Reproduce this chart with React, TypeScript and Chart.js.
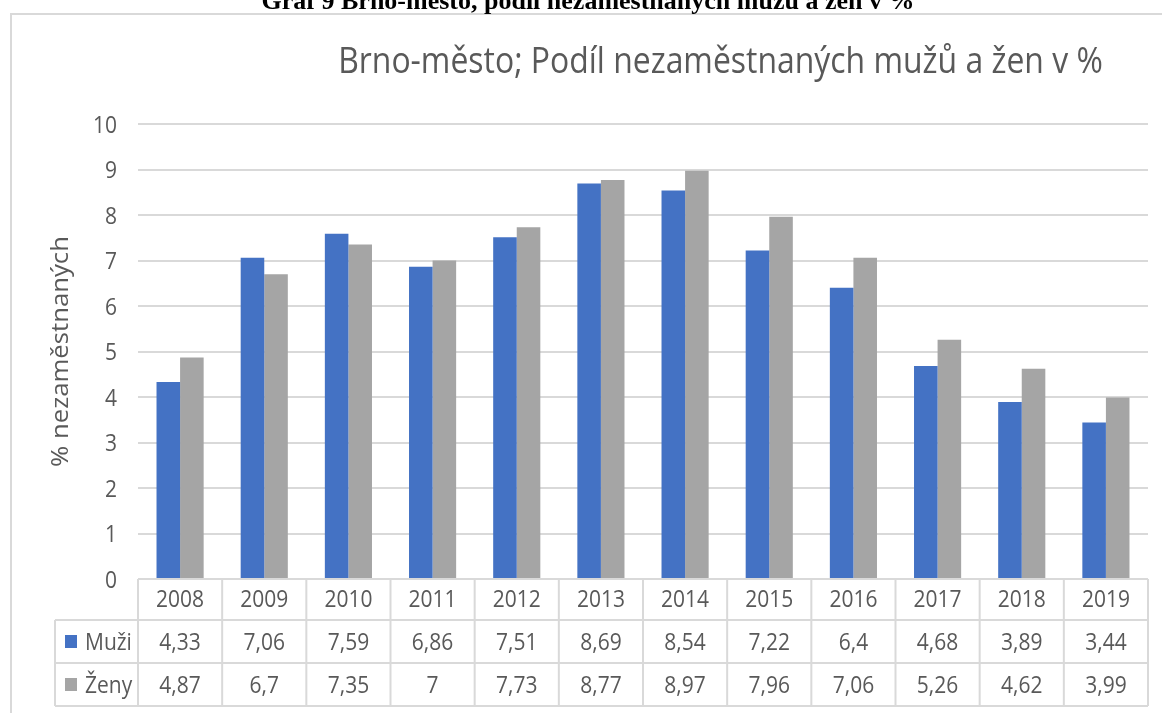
import React, { useEffect, useRef } from "react";
import { Chart, registerables } from "chart.js";

Chart.register(...registerables);

const years = ["2008", "2009", "2010", "2011", "2012", "2013", "2014", "2015", "2016", "2017", "2018", "2019"];
const muzi = [4.33, 7.06, 7.59, 6.86, 7.51, 8.69, 8.54, 7.22, 6.4, 4.68, 3.89, 3.44];
const zeny = [4.87, 6.7, 7.35, 7, 7.73, 8.77, 8.97, 7.96, 7.06, 5.26, 4.62, 3.99];
const yTicks = [0, 1, 2, 3, 4, 5, 6, 7, 8, 9, 10];
const seriesNames = ["Muži", "Ženy"];
const heading = "Graf 9 Brno-město, podíl nezaměstnaných mužů a žen v %";
const chartTitle = "Brno-město; Podíl nezaměstnaných mužů a žen v %";
const yTitle = "% nezaměstnaných";

const BLUE = "#4472C4";
const GRAY = "#A5A5A5";
const TEXT = "#595959";
const LINE = "#D9D9D9";
const FONT = "'Open Sans', 'Noto Sans', sans-serif";
const SY = 1.12;

const fmt = (v: number) => String(v).replace(".", ",");

function txt(ctx: CanvasRenderingContext2D, s: string, x: number, y: number, font: string, align: CanvasTextAlign, color: string, sy = SY) {
  ctx.save();
  ctx.translate(x, y);
  ctx.scale(1, sy);
  ctx.font = font;
  ctx.textAlign = align;
  ctx.textBaseline = "alphabetic";
  ctx.fillStyle = color;
  ctx.fillText(s, 0, 0);
  ctx.restore();
}

function fitSize(ctx: CanvasRenderingContext2D, s: string, family: string, weight: string, target: number) {
  ctx.save();
  ctx.font = `${weight} 40px ${family}`;
  const w = ctx.measureText(s).width;
  ctx.restore();
  return (40 * target) / w;
}

const decorPlugin = {
  id: "decor",
  afterDraw(chart: any) {
    const ctx: CanvasRenderingContext2D = chart.ctx;
    const area = chart.chartArea;
    const xs = chart.scales.x;
    const ys = chart.scales.y;

    // frame
    ctx.save();
    ctx.strokeStyle = LINE;
    ctx.lineWidth = 2;
    ctx.beginPath();
    ctx.moveTo(11, 713);
    ctx.lineTo(11, 14);
    ctx.lineTo(1162, 14);
    ctx.stroke();
    ctx.restore();

    // document heading (partially cut off)
    const hs = fitSize(ctx, heading, "'Liberation Serif', 'Times New Roman', serif", "bold", 653);
    txt(ctx, heading, 588, 9, `bold ${hs}px 'Liberation Serif', 'Times New Roman', serif`, "center", "#000", 1);

    // chart title
    const ts = fitSize(ctx, chartTitle, FONT, "normal", 765);
    txt(ctx, chartTitle, 720.5, 73, `${ts}px ${FONT}`, "center", TEXT);

    // y axis title
    const yts = fitSize(ctx, yTitle, FONT, "normal", 231 / SY);
    ctx.save();
    ctx.translate(68, (area.top + area.bottom) / 2);
    ctx.scale(1, SY);
    ctx.rotate(-Math.PI / 2);
    ctx.font = `${yts}px ${FONT}`;
    ctx.textAlign = "center";
    ctx.textBaseline = "alphabetic";
    ctx.fillStyle = TEXT;
    ctx.fillText(yTitle, 0, 0);
    ctx.restore();

    // y tick labels
    const tf = `21px ${FONT}`;
    yTicks.forEach((t) => {
      txt(ctx, String(t), area.left - 21, ys.getPixelForValue(t) + 8.5, tf, "right", TEXT);
    });

    // data table
    const top = area.bottom;
    const rows = [top, top + 41, top + 84, top + 127];
    const legendLeft = 55;
    const n = years.length;
    const centers = years.map((_, i) => xs.getPixelForValue(i));
    const bounds: number[] = [area.left];
    for (let i = 0; i < n - 1; i++) bounds.push((centers[i] + centers[i + 1]) / 2);
    bounds.push(area.right);

    ctx.save();
    ctx.strokeStyle = LINE;
    ctx.lineWidth = 2;
    ctx.beginPath();
    ctx.moveTo(area.left, rows[0]);
    ctx.lineTo(area.right, rows[0]);
    for (let r = 1; r < 4; r++) {
      ctx.moveTo(legendLeft, rows[r]);
      ctx.lineTo(area.right, rows[r]);
    }
    bounds.forEach((b) => {
      ctx.moveTo(b, rows[0]);
      ctx.lineTo(b, rows[3]);
    });
    ctx.moveTo(legendLeft, rows[1]);
    ctx.lineTo(legendLeft, rows[3]);
    ctx.stroke();
    ctx.restore();

    years.forEach((y, i) => {
      txt(ctx, y, centers[i], rows[0] + 28, tf, "center", TEXT);
      txt(ctx, fmt(muzi[i]), centers[i], rows[1] + 30, tf, "center", TEXT);
      txt(ctx, fmt(zeny[i]), centers[i], rows[2] + 30, tf, "center", TEXT);
    });

    const colors = [BLUE, GRAY];
    seriesNames.forEach((name, k) => {
      const rt = rows[k + 1];
      ctx.fillStyle = colors[k];
      ctx.fillRect(65, rt + 15, 12, 13);
      txt(ctx, name, 85, rt + 30, tf, "left", TEXT);
    });
  },
};

export default function App() {
  const ref = useRef<HTMLCanvasElement | null>(null);
  useEffect(() => {
    document.body.style.margin = "0";
    const canvas = ref.current!;
    const chart = new Chart(canvas, {
      type: "bar",
      data: {
        labels: years,
        datasets: [
          { label: seriesNames[0], data: muzi, backgroundColor: BLUE, borderWidth: 0, categoryPercentage: 0.56, barPercentage: 1 },
          { label: seriesNames[1], data: zeny, backgroundColor: GRAY, borderWidth: 0, categoryPercentage: 0.56, barPercentage: 1 },
        ],
      },
      options: {
        responsive: false,
        animation: false,
        layout: { padding: { left: 0, right: 14, top: 124, bottom: 134 } },
        plugins: { legend: { display: false }, tooltip: { enabled: false }, title: { display: false } },
        scales: {
          x: { display: false },
          y: {
            min: 0,
            max: 10,
            ticks: { display: false, stepSize: 1 },
            grid: { color: LINE, lineWidth: 2, drawTicks: false },
            border: { display: false },
            afterFit: (s: any) => {
              s.width = 138;
            },
          },
        },
      },
      plugins: [decorPlugin],
    });
    return () => chart.destroy();
  }, []);
  return (
    <div style={{ position: "absolute", left: 0, top: 0, width: 1162, height: 713 }}>
      <canvas ref={ref} width={1162} height={713} style={{ display: "block" }} />
    </div>
  );
}
